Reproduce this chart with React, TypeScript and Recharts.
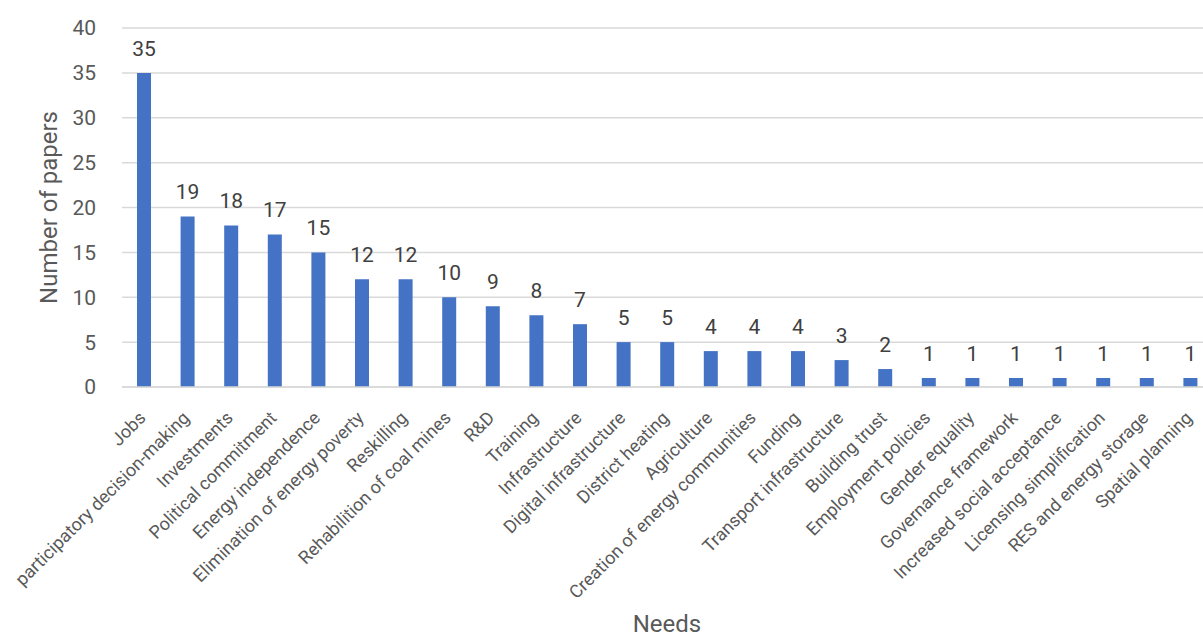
import { BarChart, Bar, XAxis, YAxis, CartesianGrid, LabelList, Label } from 'recharts';

const needs = [
  'Jobs',
  'participatory decision-making',
  'Investments',
  'Political commitment',
  'Energy independence',
  'Elimination of energy poverty',
  'Reskilling',
  'Rehabilition of coal mines',
  'R&D',
  'Training',
  'Infrastructure',
  'Digital infrastructure',
  'District heating',
  'Agriculture',
  'Creation of energy communities',
  'Funding',
  'Transport infrastructure',
  'Building trust',
  'Employment policies',
  'Gender equality',
  'Governance framework',
  'Increased social acceptance',
  'Licensing simplification',
  'RES and energy storage',
  'Spatial planning',
];

const papers = [35, 19, 18, 17, 15, 12, 12, 10, 9, 8, 7, 5, 5, 4, 4, 4, 3, 2, 1, 1, 1, 1, 1, 1, 1];

const yTicks = [0, 5, 10, 15, 20, 25, 30, 35, 40];

const rows = needs.map((need, i) => ({ need, papers: papers[i] }));

const FONT = 'Roboto, "Noto Sans", sans-serif';

// category names run diagonally, ending just right of each bar
function NeedTick(props: any) {
  const { x, y, payload } = props;
  const ax = x + 3;
  const ay = y + 24;
  return (
    <text
      x={ax}
      y={ay}
      transform={`rotate(-45, ${ax}, ${ay})`}
      textAnchor="end"
      fontSize={18}
      fill="#595959"
      fontFamily={FONT}
    >
      {payload.value}
    </text>
  );
}

export default function App() {
  return (
    <div
      style={{
        position: 'absolute',
        left: 0,
        top: 0,
        width: 1203,
        height: 637,
        overflow: 'hidden',
        background: '#fff',
        fontFamily: FONT,
      }}
    >
      <BarChart
        width={1212}
        height={637}
        data={rows}
        margin={{ top: 28, right: 0, left: 0, bottom: 0 }}
      >
        <CartesianGrid vertical={false} stroke="#d9d9d9" strokeWidth={1.5} />
        <XAxis
          dataKey="need"
          interval={0}
          height={250}
          tick={<NeedTick />}
          tickLine={false}
          axisLine={{ stroke: '#d9d9d9', strokeWidth: 1.5 }}
        >
          <Label
            value="Needs"
            position="insideBottom"
            offset={5}
            fontSize={24}
            fill="#595959"
            fontFamily={FONT}
          />
        </XAxis>
        <YAxis
          width={122}
          domain={[0, 40]}
          ticks={yTicks}
          interval={0}
          tickLine={false}
          axisLine={false}
          tickMargin={20}
          tick={{ fontSize: 21, fill: '#595959', fontFamily: FONT }}
        >
          <Label
            value="Number of papers"
            angle={-90}
            position="insideLeft"
            offset={48}
            style={{ textAnchor: 'middle' }}
            fontSize={24}
            fill="#595959"
            fontFamily={FONT}
          />
        </YAxis>
        <Bar dataKey="papers" fill="#4472c4" barSize={14} isAnimationActive={false}>
          <LabelList
            dataKey="papers"
            position="top"
            offset={17}
            fontSize={21}
            fill="#404040"
            fontFamily={FONT}
          />
        </Bar>
      </BarChart>
    </div>
  );
}
